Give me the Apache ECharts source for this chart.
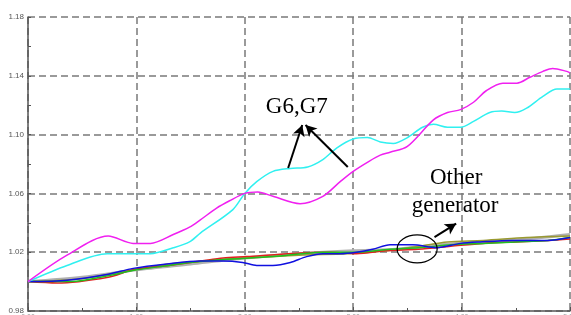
<!DOCTYPE html>
<html>
<head>
<meta charset="utf-8">
<script src="https://cdn.jsdelivr.net/npm/echarts@6/dist/echarts.min.js"></script>
<style>
html,body{margin:0;padding:0;background:#fff;}
#c{width:571px;height:315px;}
</style>
</head>
<body>
<div id="c"></div>
<script>
// ---- data (x in axis units 0..5, y per-unit value) ----
const yTicks = [0.98, 1.02, 1.06, 1.10, 1.14, 1.18];
const xTickLabels = ['0.00', '1.00', '2.00', '3.00', '4.00', '5.00'];

const g6x = [0,0.36,0.74,0.97,1.13,1.34,1.49,1.59,1.74,1.86,2.00,2.12,2.26,2.51,2.72,2.88,3.00,3.15,3.25,3.34,3.50,3.74,3.87,3.99,4.11,4.23,4.38,4.51,4.63,4.75,4.84,4.97,5.0];
const g6y = [1.000,1.018,1.031,1.026,1.026,1.032,1.037,1.042,1.050,1.055,1.060,1.061,1.058,1.053,1.058,1.068,1.075,1.082,1.086,1.088,1.092,1.110,1.115,1.117,1.122,1.130,1.135,1.135,1.139,1.143,1.145,1.143,1.142];

const g7x = [0,0.36,0.73,1.13,1.34,1.49,1.59,1.89,2.00,2.11,2.26,2.42,2.58,2.72,2.85,3.00,3.13,3.25,3.37,3.50,3.64,3.74,3.87,3.99,4.11,4.26,4.37,4.49,4.60,4.75,4.88,5.0];
const g7y = [1.000,1.011,1.019,1.019,1.023,1.027,1.033,1.049,1.060,1.068,1.075,1.077,1.078,1.083,1.091,1.097,1.098,1.095,1.094,1.098,1.105,1.107,1.105,1.105,1.109,1.115,1.116,1.115,1.118,1.126,1.131,1.131];

const blueX = [0,0.36,0.74,0.97,1.28,1.59,1.80,1.98,2.11,2.26,2.42,2.57,2.72,2.88,3.03,3.18,3.34,3.55,3.77,3.99,4.17,4.47,4.79,5.0];
const blueY = [1.000,1.001,1.005,1.009,1.012,1.014,1.014,1.013,1.011,1.011,1.013,1.017,1.019,1.019,1.020,1.022,1.025,1.025,1.023,1.026,1.027,1.028,1.028,1.030];

const redX = [0,0.27,0.74,0.97,1.3,1.6,1.8,2.02,2.4,2.79,3.03,3.3,3.6,3.9,4.2,4.5,4.8,5.0];
const redY = [1.000,0.999,1.003,1.008,1.011,1.014,1.016,1.017,1.019,1.020,1.019,1.021,1.022,1.024,1.026,1.027,1.028,1.029];

const greenX = [0,0.4,0.74,1.0,1.3,1.49,1.8,2.26,2.72,3.03,3.34,3.6,3.9,4.2,4.5,4.8,5.0];
const greenY = [1.000,1.000,1.004,1.008,1.011,1.013,1.015,1.017,1.020,1.020,1.022,1.023,1.025,1.026,1.027,1.028,1.030];

const oliveX = [0,0.5,0.9,1.3,1.6,2.0,2.5,2.95,3.3,3.6,3.87,4.2,4.6,5.0];
const oliveY = [1.000,1.002,1.007,1.012,1.014,1.016,1.018,1.019,1.021,1.024,1.027,1.028,1.030,1.031];

const grayX = [0,0.5,1.0,1.5,2.0,2.5,3.0,3.4,3.8,4.2,4.6,5.0];
const grayY = [1.000,1.003,1.008,1.012,1.016,1.019,1.021,1.022,1.025,1.027,1.029,1.032];

const zip = (xs, ys) => xs.map((x, i) => [x, ys[i]]);

const chart = echarts.init(document.getElementById('c'), null, {renderer: 'canvas'});

function line(name, xs, ys, color, width, z) {
  return {
    name, type: 'line', data: zip(xs, ys), showSymbol: false, symbol: 'none',
    smooth: 0.3, lineStyle: {color, width}, z: z || 2, silent: true
  };
}

const gridDash = {type: [7, 4], color: '#7a7a7a', width: 1.5};

chart.setOption({
  animation: false,
  backgroundColor: '#fff',
  grid: {left: 28, right: 1, top: 17, bottom: 4, containLabel: false, outerBoundsMode: 'none'},
  xAxis: {
    type: 'value', min: 0, max: 5, interval: 1,
    axisLine: {show: true, onZero: false, lineStyle: {color: '#555', width: 1.5}},
    axisTick: {show: true, inside: true, length: 4, lineStyle: {color: '#555'}},
    minorTick: {show: true, splitNumber: 2, length: 3, lineStyle: {color: '#555'}},
    splitLine: {show: true, lineStyle: gridDash},
    axisLabel: {show: true, margin: 3, fontSize: 7, color: '#999', fontFamily: 'Liberation Sans',
      formatter: v => xTickLabels[Math.round(v)] || ''}
  },
  yAxis: {
    type: 'value', min: yTicks[0], max: yTicks[yTicks.length - 1], interval: 0.04,
    axisLine: {show: true, onZero: false, lineStyle: {color: '#555', width: 1.5}},
    axisTick: {show: true, inside: true, length: 3, lineStyle: {color: '#555'}},
    minorTick: {show: true, splitNumber: 2, length: 3, lineStyle: {color: '#555'}},
    splitLine: {show: true, lineStyle: gridDash},
    axisLabel: {margin: 4, fontSize: 8, color: '#555', fontFamily: 'Liberation Sans',
      formatter: v => v.toFixed(2)}
  },
  series: [
    line('gray', grayX, grayY, '#b0b0b0', 3, 1),
    line('olive', oliveX, oliveY, '#9a9a30', 1.5, 2),
    line('red', redX, redY, '#e02020', 1.5, 2),
    line('green', greenX, greenY, '#20c020', 1.5, 2),
    line('blue', blueX, blueY, '#1010e0', 1.5, 3),
    line('G7', g7x, g7y, '#30f0f0', 1.5, 4),
    line('G6', g6x, g6y, '#f020f0', 1.5, 4),
    {
      name: 'annot', type: 'line', data: [], silent: true, z: 10,
      markLine: {
        silent: true, symbol: ['none', 'arrow'], symbolSize: [9, 11], label: {show: false},
        lineStyle: {color: '#000', width: 2, type: 'solid'},
        data: [
          [{coord: [2.40, 1.0773]}, {coord: [2.53, 1.1065]}],
          [{coord: [2.95, 1.0780]}, {coord: [2.56, 1.1065]}],
          [{coord: [3.75, 1.0303]}, {coord: [3.95, 1.0395]}]
        ]
      }
    }
  ]
});

function px(x, y) { return chart.convertToPixel({gridIndex: 0}, [x, y]); }
const pG = px(2.48, 1.1188), pO = px(3.95, 1.0705), pGen = px(3.94, 1.0515), pE = px(3.59, 1.0222);
const font = '23px "Liberation Serif", "DejaVu Serif", serif';
chart.setOption({
  graphic: [
    {type: 'text', x: pG[0], y: pG[1], z: 20, style: {text: 'G6,G7', font, fill: '#000', align: 'center', verticalAlign: 'middle'}},
    {type: 'text', x: pO[0], y: pO[1], z: 20, style: {text: 'Other', font, fill: '#000', align: 'center', verticalAlign: 'middle'}},
    {type: 'text', x: pGen[0], y: pGen[1], z: 20, style: {text: 'generator', font, fill: '#000', align: 'center', verticalAlign: 'middle'}},
    {type: 'ellipse', z: 20, shape: {cx: pE[0], cy: pE[1], rx: 20, ry: 14}, style: {fill: 'none', stroke: '#000', lineWidth: 1.2}}
  ]
});
</script>
</body>
</html>
